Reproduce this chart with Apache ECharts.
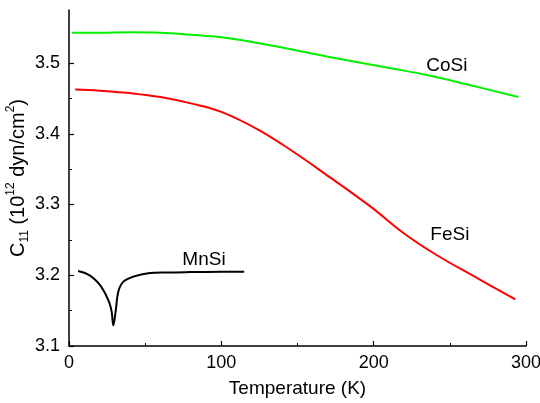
<!DOCTYPE html>
<html>
<head>
<meta charset="utf-8">
<script src="https://cdn.jsdelivr.net/npm/echarts@6/dist/echarts.min.js"></script>
<style>
  html, body { margin: 0; padding: 0; background: #fff; }
  #chart { width: 540px; height: 403px; }
</style>
</head>
<body>
<div id="chart"></div>
<script>
// Elastic constant C11 versus temperature for three monosilicides
const cosiT = [2, 20, 40, 60, 80, 100, 130, 170, 213, 235, 261, 295];
const cosiC = [3.543, 3.543, 3.5435, 3.543, 3.540, 3.5365, 3.526, 3.509, 3.492, 3.483, 3.470, 3.452];

const fesiT = [4, 20, 40, 60, 80, 100, 125, 147, 169, 198, 220, 241, 268, 293];
const fesiC = [3.4625, 3.461, 3.4575, 3.452, 3.443, 3.431, 3.405, 3.375, 3.342, 3.297, 3.259, 3.229, 3.196, 3.166];

const mnsiT = [6, 10, 13.8, 17, 20.4, 22.5, 24.7, 26.5, 28, 29.1, 30.6, 32.4, 35.7, 42.2, 52, 65, 80, 100, 115];
const mnsiC = [3.206, 3.2035, 3.1995, 3.194, 3.186, 3.179, 3.170, 3.161, 3.1485, 3.129, 3.1485, 3.177, 3.191, 3.198, 3.203, 3.204, 3.2045, 3.205, 3.205];

const yTicks = [3.1, 3.2, 3.3, 3.4, 3.5];
const yMinorTicks = [3.15, 3.25, 3.35, 3.45];

const pairs = (xs, ys) => xs.map((x, i) => [x, ys[i]]);

const FONT = '"Liberation Sans", Arial, sans-serif';
const INK = '#000';

const chart = echarts.init(document.getElementById('chart'), null, { renderer: 'canvas' });

// text placed next to each curve
function curveLabel(text, coord) {
  return {
    silent: true,
    symbol: 'circle',
    symbolSize: 1,
    itemStyle: { color: 'rgba(0,0,0,0)' },
    label: { show: true, position: 'inside', formatter: text, color: INK, fontSize: 19, fontFamily: FONT },
    data: [{ coord: coord }]
  };
}

chart.setOption({
  animation: false,
  backgroundColor: '#fff',
  grid: { left: 69, right: 14, top: 10, bottom: 57, containLabel: false, outerBoundsMode: 'none' },
  xAxis: {
    type: 'value',
    min: 0, max: 300, interval: 100,
    name: 'Temperature (K)',
    nameLocation: 'middle',
    nameGap: 33,
    nameMoveOverlap: false,
    nameTextStyle: { color: INK, fontSize: 19, fontFamily: FONT },
    axisLine: { show: true, lineStyle: { color: INK, width: 1.5 } },
    axisTick: { show: true, inside: true, length: 5, lineStyle: { color: INK, width: 1.2 } },
    minorTick: { show: true, splitNumber: 2, length: 3, lineStyle: { color: INK, width: 1 } },
    axisLabel: { color: INK, fontSize: 18, fontFamily: FONT, margin: 8 },
    splitLine: { show: false },
    minorSplitLine: { show: false }
  },
  yAxis: [
    {
      type: 'value',
      min: 3.1, max: 3.575,
      name: '{m|C}{s|11}{m| (10}{p|12}{m| dyn/cm}{p|2}{m|)}',
      nameLocation: 'middle',
      nameGap: 38,
      nameMoveOverlap: false,
      nameTextStyle: {
        color: INK, fontFamily: FONT,
        rich: {
          m: { fontSize: 20, fontFamily: FONT, color: INK, lineHeight: 26, verticalAlign: 'middle' },
          s: { fontSize: 12, fontFamily: FONT, color: INK, lineHeight: 26, verticalAlign: 'bottom' },
          p: { fontSize: 12, fontFamily: FONT, color: INK, lineHeight: 26, verticalAlign: 'top' }
        }
      },
      axisLine: { show: true, lineStyle: { color: INK, width: 1.5 } },
      axisTick: { show: true, inside: true, length: 5, lineStyle: { color: INK, width: 1.2 }, customValues: yTicks },
      axisLabel: {
        color: INK, fontSize: 18, fontFamily: FONT, margin: 9,
        customValues: yTicks,
        formatter: v => v.toFixed(1)
      },
      splitLine: { show: false }
    },
    {
      // minor ticks of the value axis
      type: 'value',
      min: 3.1, max: 3.575,
      position: 'left',
      axisLine: { show: true, lineStyle: { color: 'rgba(0,0,0,0)' } },
      axisTick: { show: true, inside: true, length: 3, lineStyle: { color: INK, width: 1 }, customValues: yMinorTicks },
      axisLabel: { show: false },
      splitLine: { show: false }
    }
  ],
  series: [
    {
      name: 'CoSi', type: 'line', data: pairs(cosiT, cosiC),
      showSymbol: false, smooth: 0.4,
      lineStyle: { color: '#00f000', width: 2 },
      markPoint: curveLabel('CoSi', [248, 3.4965])
    },
    {
      name: 'FeSi', type: 'line', data: pairs(fesiT, fesiC),
      showSymbol: false, smooth: 0.4,
      lineStyle: { color: '#ff0000', width: 2 },
      markPoint: curveLabel('FeSi', [250, 3.257])
    },
    {
      name: 'MnSi', type: 'line', data: pairs(mnsiT, mnsiC),
      showSymbol: false, smooth: 0.35,
      lineStyle: { color: '#000', width: 2 },
      markPoint: curveLabel('MnSi', [88.6, 3.2216])
    }
  ]
});
</script>
</body>
</html>
